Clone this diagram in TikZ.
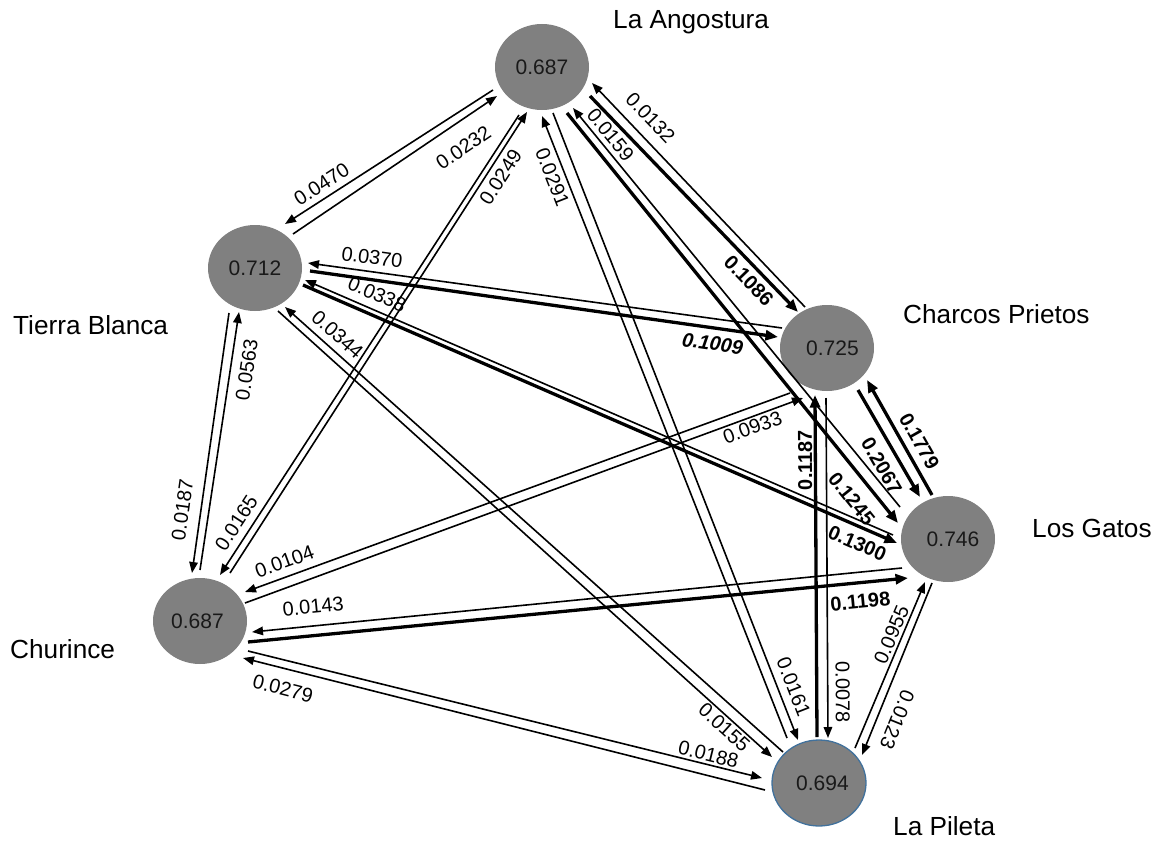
\documentclass[tikz,border=0pt]{standalone}
\usepackage{fontspec}
\setmainfont{Liberation Sans}
\usetikzlibrary{arrows.meta,calc,shapes.geometric}
\definecolor{nodegray}{RGB}{128,128,128}
\definecolor{outlineblue}{RGB}{65,113,156}
\begin{document}
\begin{tikzpicture}[x=1pt,y=-1pt,
  site/.style={ellipse, fill=nodegray, minimum width=94pt, minimum height=86pt, inner sep=0pt,
    text=black!90, font=\fontsize{21}{24}\selectfont},
  place/.style={anchor=base west, inner sep=0pt, font=\fontsize{26.2}{30}\selectfont},
  thinarr/.style={line width=1.6pt, -{Triangle[length=11pt,width=8.5pt]}},
  thickarr/.style={line width=3.3pt, -{Triangle[length=12.5pt,width=10pt]}},
  lab/.style={sloped, inner sep=0pt, font=\fontsize{20}{24}\selectfont},
  blab/.style={sloped, inner sep=0pt, font=\fontsize{20}{24}\selectfont\bfseries},
  bilab/.style={sloped, inner sep=0pt, font=\fontsize{20}{24}\selectfont\bfseries\itshape},
]
\useasboundingbox (0,0) rectangle (1159,843);

% sites
\node[site] (LA) at (542,67) {0.687};
\node[site] (TB) at (255,268) {0.712};
\node[site] (CP) at (827,348) {\kern11pt 0.725};
\node[site] (LG) at (948,539) {\kern10pt 0.746};
\node[site] (CH) at (200,621) {0.687\kern5pt};
\node[site, draw=outlineblue, line width=1.3pt] (LP) at (819,783) {\kern7pt 0.694};

% names
\node[place] (nLA) at (613,29) {La Angostura};
\node[place] (nTB) at (13,334) {Tierra Blanca};
\node[place] (nCP) at (903,323) {Charcos Prietos};
\node[place] (nLG) at (1032,537) {Los Gatos};
\node[place] (nCH) at (10,658) {Churince};
\node[place] (nLP) at (893,835) {La Pileta};

% connectors
\draw[thinarr] ($(LA)+(-49,23)$) -- node[lab,pos=.789,above=5.5pt] (l1) {0.0470} ($(TB)+(30,-44)$);
\draw[thinarr] ($(TB)+(38,-34)$) -- node[lab,pos=.770,below=16pt] (l2) {0.0232} ($(LA)+(-45,29)$);
\draw[thinarr] ($(CH)+(30,-48)$) -- node[lab,pos=.874,below=5.3pt] (l3) {0.0249} ($(LA)+(-15,45)$);
\draw[thinarr] ($(LA)+(-23,48)$) -- node[lab,pos=.904,above=6.9pt] (l4) {0.0165} ($(CH)+(20,-46)$);
\draw[thinarr] ($(LP)+(-32,-45)$) -- node[lab,pos=.909,below=4.9pt] (l5) {0.0291} ($(LA)+(0,49)$);
\draw[thinarr] ($(LA)+(11,46)$) -- node[lab,pos=.924,above=7.4pt] (l6) {0.0161} ($(LP)+(-21,-43)$);
\draw[thinarr] ($(CP)+(-22,-41)$) -- node[lab,pos=.789,above=10.7pt] (l7) {0.0132} ($(LA)+(50,16)$);
\draw[thickarr] ($(LA)+(48,29)$) -- node[blab,pos=.812,below=5.2pt] (l8) {0.1086} ($(CP)+(-29,-36)$);
\draw[thinarr] ($(LG)+(-48,-32)$) -- node[lab,pos=.914,above=4.3pt] (l9) {0.0159} ($(LA)+(31,41)$);
\draw[thickarr] ($(LA)+(25,46)$) -- node[blab,pos=.909,below=12.1pt] (l10) {0.1245} ($(LG)+(-50,-16)$);
\draw[thinarr] ($(CP)+(-45,-20)$) -- node[lab,pos=.869,above=6.4pt] (l11) {0.0370} ($(TB)+(53,-5)$);
\draw[thickarr] ($(TB)+(55,3)$) -- node[bilab,pos=.865,below=6.8pt] (l12) {0.1009} ($(CP)+(-49,-11)$);
\draw[thinarr] ($(LG)+(-55,-4)$) -- node[lab,pos=.888,above=7.7pt] (l13) {0.0338} ($(TB)+(50,12)$);
\draw[thickarr] ($(TB)+(48,17)$) -- node[blab,pos=.944,below=7.4pt] (l14) {0.1300} ($(LG)+(-51,4)$);
\draw[thinarr] ($(CH)+(0,-51)$) -- node[lab,pos=.785,below=8.4pt] (l15) {0.0563} ($(TB)+(-16,44)$);
\draw[thinarr] ($(TB)+(-26,45)$) -- node[lab,pos=.767,above=10.6pt] (l16) {0.0187} ($(CH)+(-8,-48)$);
\draw[thinarr] ($(LP)+(-36,-31)$) -- node[lab,pos=.914,above=6.6pt] (l17) {0.0344} ($(TB)+(30,39)$);
\draw[thinarr] ($(TB)+(23,43)$) -- node[lab,pos=.917,below=2pt] (l18) {0.0155} ($(LP)+(-47,-26)$);
\draw[thickarr] ($(LG)+(-16,-44)$) -- node[blab,pos=.401,above=6.7pt] (l19) {0.1779} ($(CP)+(40,32)$);
\draw[thickarr] ($(CP)+(31,42)$) -- node[blab,pos=.626,below=8.8pt] (l20) {0.2067} ($(LG)+(-28,-42)$);
\draw[thinarr] ($(CH)+(45,-18)$) -- node[lab,pos=.903,below=2.4pt] (l21) {0.0933} ($(CP)+(-24,50)$);
\draw[thinarr] ($(CP)+(-37,45)$) -- node[lab,pos=.918,above=7.3pt] (l22) {0.0104} ($(CH)+(45,-29)$);
\draw[thickarr] ($(LP)+(-2,-46)$) -- node[blab,allow upside down,pos=.810,above=1.5pt] (l23) {0.1187} ($(CP)+(-12,47)$);
\draw[thinarr] ($(CP)+(-1,50)$) -- node[lab,pos=.865,above=7.1pt] (l24) {0.0078} ($(LP)+(9,-45)$);
\draw[thinarr] ($(LG)+(-46,29)$) -- node[lab,pos=.903,above=11.7pt] (l25) {0.0143} ($(CH)+(52,11)$);
\draw[thickarr] ($(CH)+(48,21)$) -- node[blab,pos=.925,below=10.1pt] (l26) {0.1198} ($(LG)+(-40,39)$);
\draw[thinarr] ($(LP)+(36,-35)$) -- node[lab,pos=.658,above=2.6pt] (l27) {0.0955} ($(LG)+(-23,43)$);
\draw[thinarr] ($(LG)+(-16,44)$) -- node[lab,allow upside down,pos=.752,above=11.5pt] (l28) {0.0123} ($(LP)+(43,-28)$);
\draw[thinarr] ($(CH)+(48,30)$) -- node[lab,pos=.891,above=2.2pt] (l29) {0.0188} ($(LP)+(-57,-5)$);
\draw[thinarr] ($(LP)+(-54,7)$) -- node[lab,pos=.914,below=12.1pt] (l30) {0.0279} ($(CH)+(43,37)$);
\end{tikzpicture}
\end{document}
